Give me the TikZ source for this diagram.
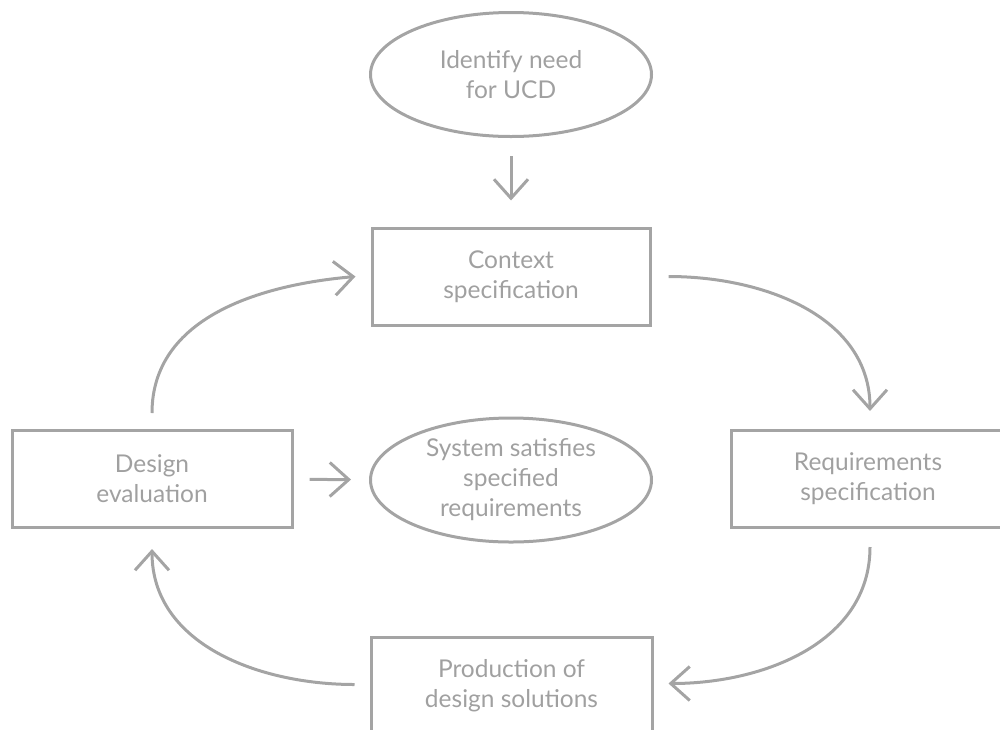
\documentclass[tikz,border=0pt]{standalone}
\usepackage{fontspec}
\setsansfont{Lato}
\usetikzlibrary{shapes.geometric,arrows.meta}
\definecolor{linegray}{RGB}{164,164,164}
\definecolor{textgray}{RGB}{160,160,160}
\tikzset{
  base/.style={draw=linegray, line width=3pt, text=textgray, align=center,
    font=\sffamily\fontsize{24.5}{30}\selectfont, inner sep=0pt},
  stagebox/.style={base, rectangle, minimum height=97pt},
  goal/.style={base, ellipse, minimum width=281pt, minimum height=124pt},
  arr/.style={draw=linegray, line width=3pt,
    -{Straight Barb[length=19pt, width=34pt, line join=miter]}},
}
\begin{document}
\begin{tikzpicture}[x=1pt, y=1pt]
  \useasboundingbox (0,0) rectangle (1000,-729);
  \clip (0,0) rectangle (1000,-729);

  % stages of the cycle
  \node[goal] (need) at (511,-74.5) {Identify need\\for UCD};
  \node[stagebox, minimum width=278pt] (ctx) at (511,-276.5) {Context\\specification};
  \node[stagebox, minimum width=274pt] (req) at (868,-479) {Requirements\\specification};
  \node[stagebox, minimum width=281pt] (prod) at (511.5,-685.5) {Production of\\design solutions};
  \node[stagebox, minimum width=280pt] (des) at (152,-479) {Design\\evaluation};
  \node[goal] (sys) at (511,-480) {System satisfies\\specified\\requirements};

  % straight connectors
  \draw[arr, shorten <=18pt, shorten >=26pt] (need) -- (ctx);
  \draw[arr, shorten <=16pt, shorten >=18pt] (des) -- (sys);

  % iterative loop
  \draw[arr] ([xshift=17pt]ctx.east) to[out=0, in=90] ([xshift=2pt, yshift=18pt]req.north);
  \draw[arr] ([xshift=2pt, yshift=-18pt]req.south) to[out=-90, in=0] ([xshift=15pt, yshift=2pt]prod.east);
  \draw[arr] ([xshift=-15pt, yshift=1pt]prod.west) to[out=180, in=-90] ([yshift=-20pt]des.south);
  \draw[arr] ([yshift=16pt]des.north) to[out=90, in=185] ([xshift=-15pt]ctx.west);
\end{tikzpicture}
\end{document}
